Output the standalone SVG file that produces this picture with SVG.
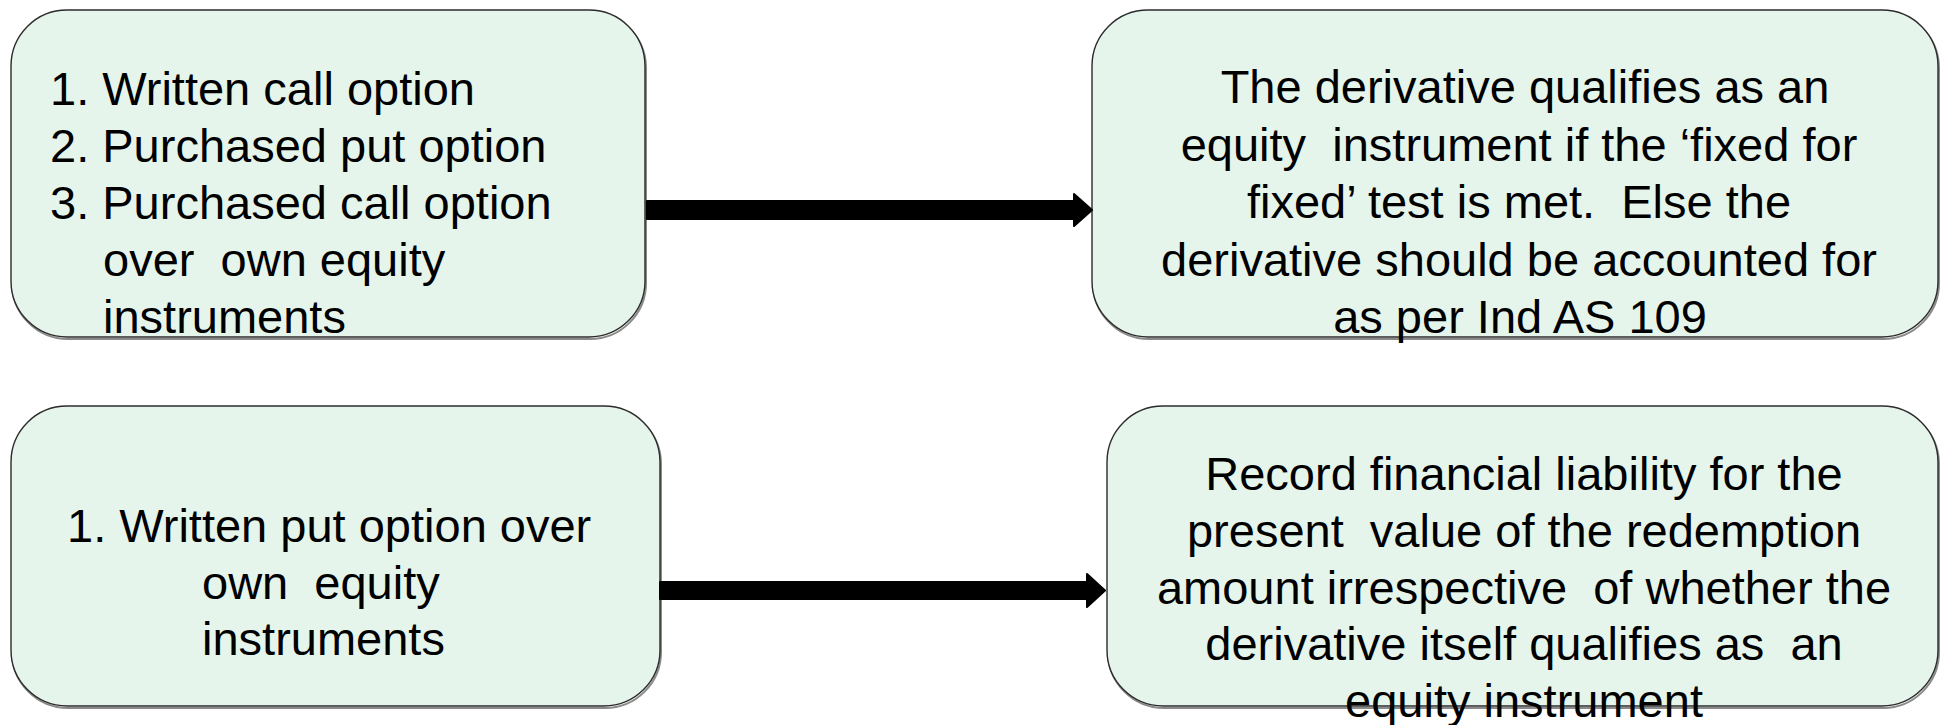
<svg xmlns="http://www.w3.org/2000/svg" width="1942" height="725" viewBox="0 0 1942 725">
  <style>
    .box { fill: #e5f5ec; stroke: #2b2b2b; stroke-width: 1.4; }
    .shadow { fill: none; stroke: #8a8a8a; stroke-width: 2; }
    .label { font-family: "Liberation Sans", Arial, sans-serif; font-size: 47px; fill: #000; white-space: pre; }
    .mid { text-anchor: middle; }
    .arrow { fill: #000; stroke: #000; stroke-width: 2; stroke-linejoin: round; }
  </style>
  <rect width="1942" height="725" fill="#ffffff"/>

  <!-- Upper left: options over own equity instruments -->
  <g id="node-call-put-options">
    <rect class="shadow" x="12" y="12" width="634" height="327" rx="56" ry="56"/>
    <rect class="box" x="11" y="10" width="634" height="327" rx="56" ry="56"/>
    <text class="label" xml:space="preserve" x="50" y="105">1. Written call option</text>
    <text class="label" xml:space="preserve" x="50" y="162">2. Purchased put option</text>
    <text class="label" xml:space="preserve" x="50" y="219">3. Purchased call option</text>
    <text class="label" xml:space="preserve" x="103" y="276">over  own equity</text>
    <text class="label" xml:space="preserve" x="103" y="333">instruments</text>
  </g>

  <!-- Upper right: fixed for fixed test outcome -->
  <g id="node-fixed-for-fixed">
    <rect class="shadow" x="1093" y="12" width="846" height="327" rx="56" ry="56"/>
    <rect class="box" x="1092" y="10" width="846" height="327" rx="56" ry="56"/>
    <text class="label mid" xml:space="preserve" x="1525" y="103">The derivative qualifies as an</text>
    <text class="label mid" xml:space="preserve" x="1519" y="160.5">equity  instrument if the ‘fixed for</text>
    <text class="label mid" xml:space="preserve" x="1519" y="218">fixed’ test is met.  Else the</text>
    <text class="label mid" xml:space="preserve" x="1519" y="275.5">derivative should be accounted for</text>
    <text class="label mid" xml:space="preserve" x="1520" y="333">as per Ind AS 109</text>
  </g>

  <!-- Lower left: written put option -->
  <g id="node-written-put">
    <rect class="shadow" x="12" y="408" width="649" height="300" rx="56" ry="56"/>
    <rect class="box" x="11" y="406" width="649" height="300" rx="56" ry="56"/>
    <text class="label" xml:space="preserve" x="67" y="542">1. Written put option over</text>
    <text class="label" xml:space="preserve" x="202" y="598.5">own  equity</text>
    <text class="label" xml:space="preserve" x="202" y="655">instruments</text>
  </g>

  <!-- Lower right: financial liability for redemption amount -->
  <g id="node-financial-liability">
    <rect class="shadow" x="1108" y="408" width="831" height="300" rx="56" ry="56"/>
    <rect class="box" x="1107" y="406" width="831" height="300" rx="56" ry="56"/>
    <text class="label mid" xml:space="preserve" x="1524" y="490">Record financial liability for the</text>
    <text class="label mid" xml:space="preserve" x="1524" y="547">present  value of the redemption</text>
    <text class="label mid" xml:space="preserve" x="1524" y="603.5">amount irrespective  of whether the</text>
    <text class="label mid" xml:space="preserve" x="1524" y="660">derivative itself qualifies as  an</text>
    <text class="label mid" xml:space="preserve" x="1524" y="717">equity instrument</text>
  </g>

  <!-- Block arrows between the boxes -->
  <g id="connectors">
    <path class="arrow" d="M647,201 H1074 V194 L1092,210 L1074,226 V219 H647 Z"/>
    <path class="arrow" d="M660,582 H1087 V574 L1105,590.5 L1087,607 V599 H660 Z"/>
  </g>
</svg>
